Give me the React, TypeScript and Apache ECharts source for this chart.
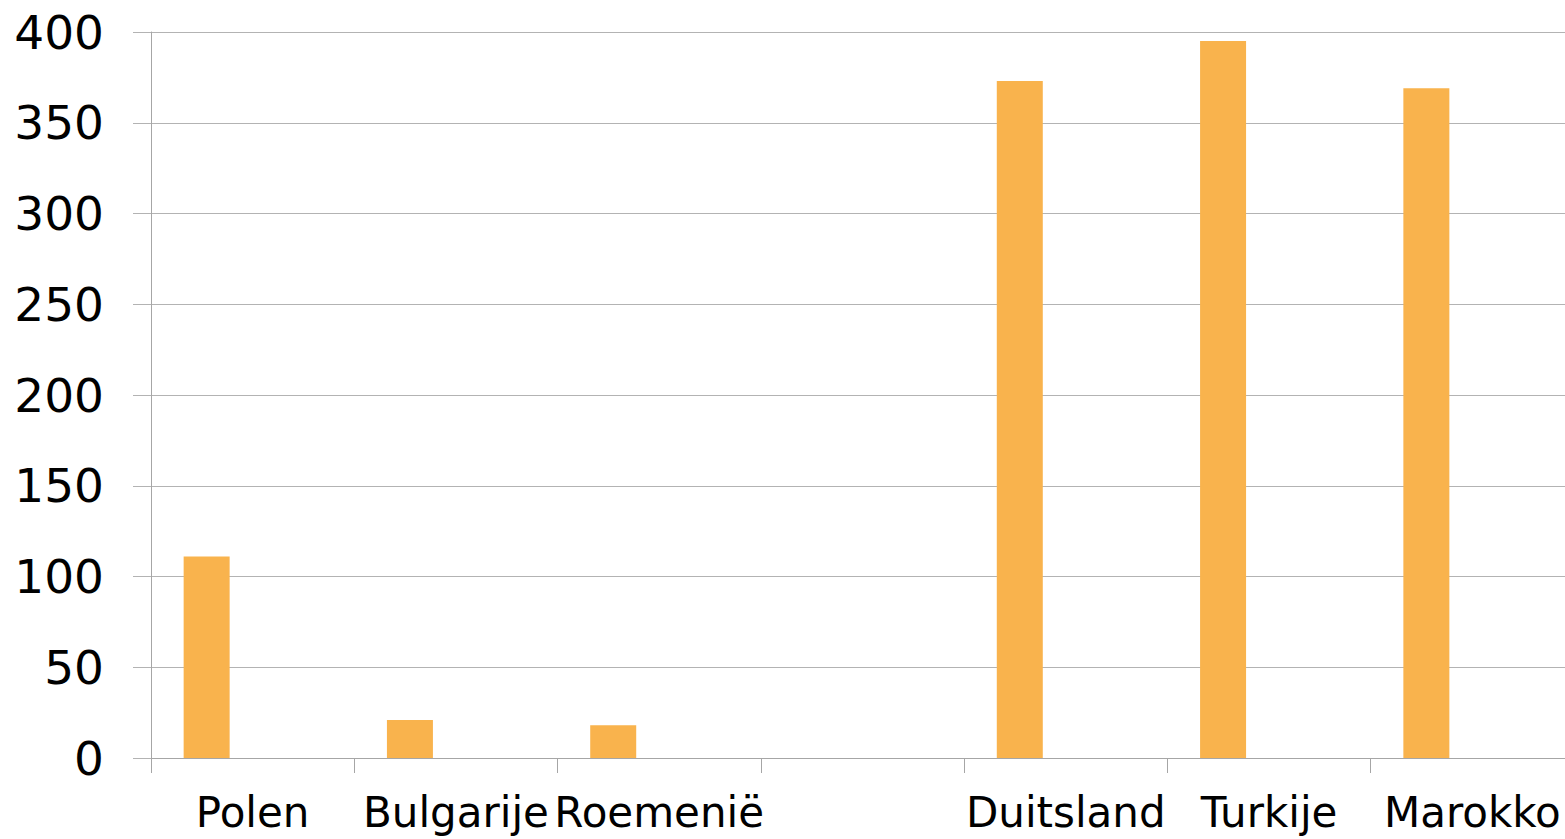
import React, { useEffect, useRef } from "react";
import * as echarts from "echarts";

const categories = ["Polen", "Bulgarije", "Roemenië", "", "Duitsland", "Turkije", "Marokko"];
const seriesA = [111, 21, 18, null, 373, 395, 369];
const seriesB = [null, null, null, null, null, null, null];
const seriesC = [null, null, null, null, null, null, null];
const yTicks = { min: 0, max: 400, interval: 50 };

export default function App() {
  const ref = useRef<HTMLDivElement>(null);
  useEffect(() => {
    if (!ref.current) return;
    const chart = echarts.init(ref.current, null, { renderer: "svg" });
    const font = "'DejaVu Sans', Verdana, sans-serif";
    const gridColor = "#B3B3B3";
    const axisColor = "#A6A6A6";
    chart.setOption({
      animation: false,
      backgroundColor: "#ffffff",
      grid: { left: 151, right: 0, top: 32, bottom: 81, containLabel: false },
      xAxis: {
        type: "category",
        data: categories,
        boundaryGap: true,
        axisLine: { show: true, lineStyle: { color: axisColor, width: 1 } },
        axisTick: { show: true, length: 15, interval: 0, alignWithLabel: false, lineStyle: { color: axisColor } },
        axisLabel: { interval: 0, margin: 33, fontSize: 42, fontFamily: font, color: "#000" },
        splitLine: { show: false },
      },
      yAxis: {
        type: "value",
        min: yTicks.min,
        max: yTicks.max,
        interval: yTicks.interval,
        axisLine: { show: true, lineStyle: { color: axisColor, width: 1 } },
        axisTick: { show: true, length: 18, lineStyle: { color: gridColor } },
        axisLabel: { margin: 47, fontSize: 47, fontFamily: font, color: "#000" },
        splitLine: { show: true, lineStyle: { color: gridColor, width: 1 } },
      },
      series: [
        { type: "bar", data: seriesA, barWidth: 46, barGap: "0%", itemStyle: { color: "#F9B34D" } },
        { type: "bar", data: seriesB, barWidth: 46, barGap: "0%", itemStyle: { color: "#E0E0E0" } },
        { type: "bar", data: seriesC, barWidth: 46, barGap: "0%", itemStyle: { color: "#C0C0C0" } },
      ],
    });
    return () => chart.dispose();
  }, []);
  return (
    <div style={{ position: "absolute", left: 0, top: 0, width: 1565, height: 839, overflow: "hidden", background: "#fff" }}>
      <div ref={ref} style={{ width: 1574, height: 839 }} />
    </div>
  );
}
